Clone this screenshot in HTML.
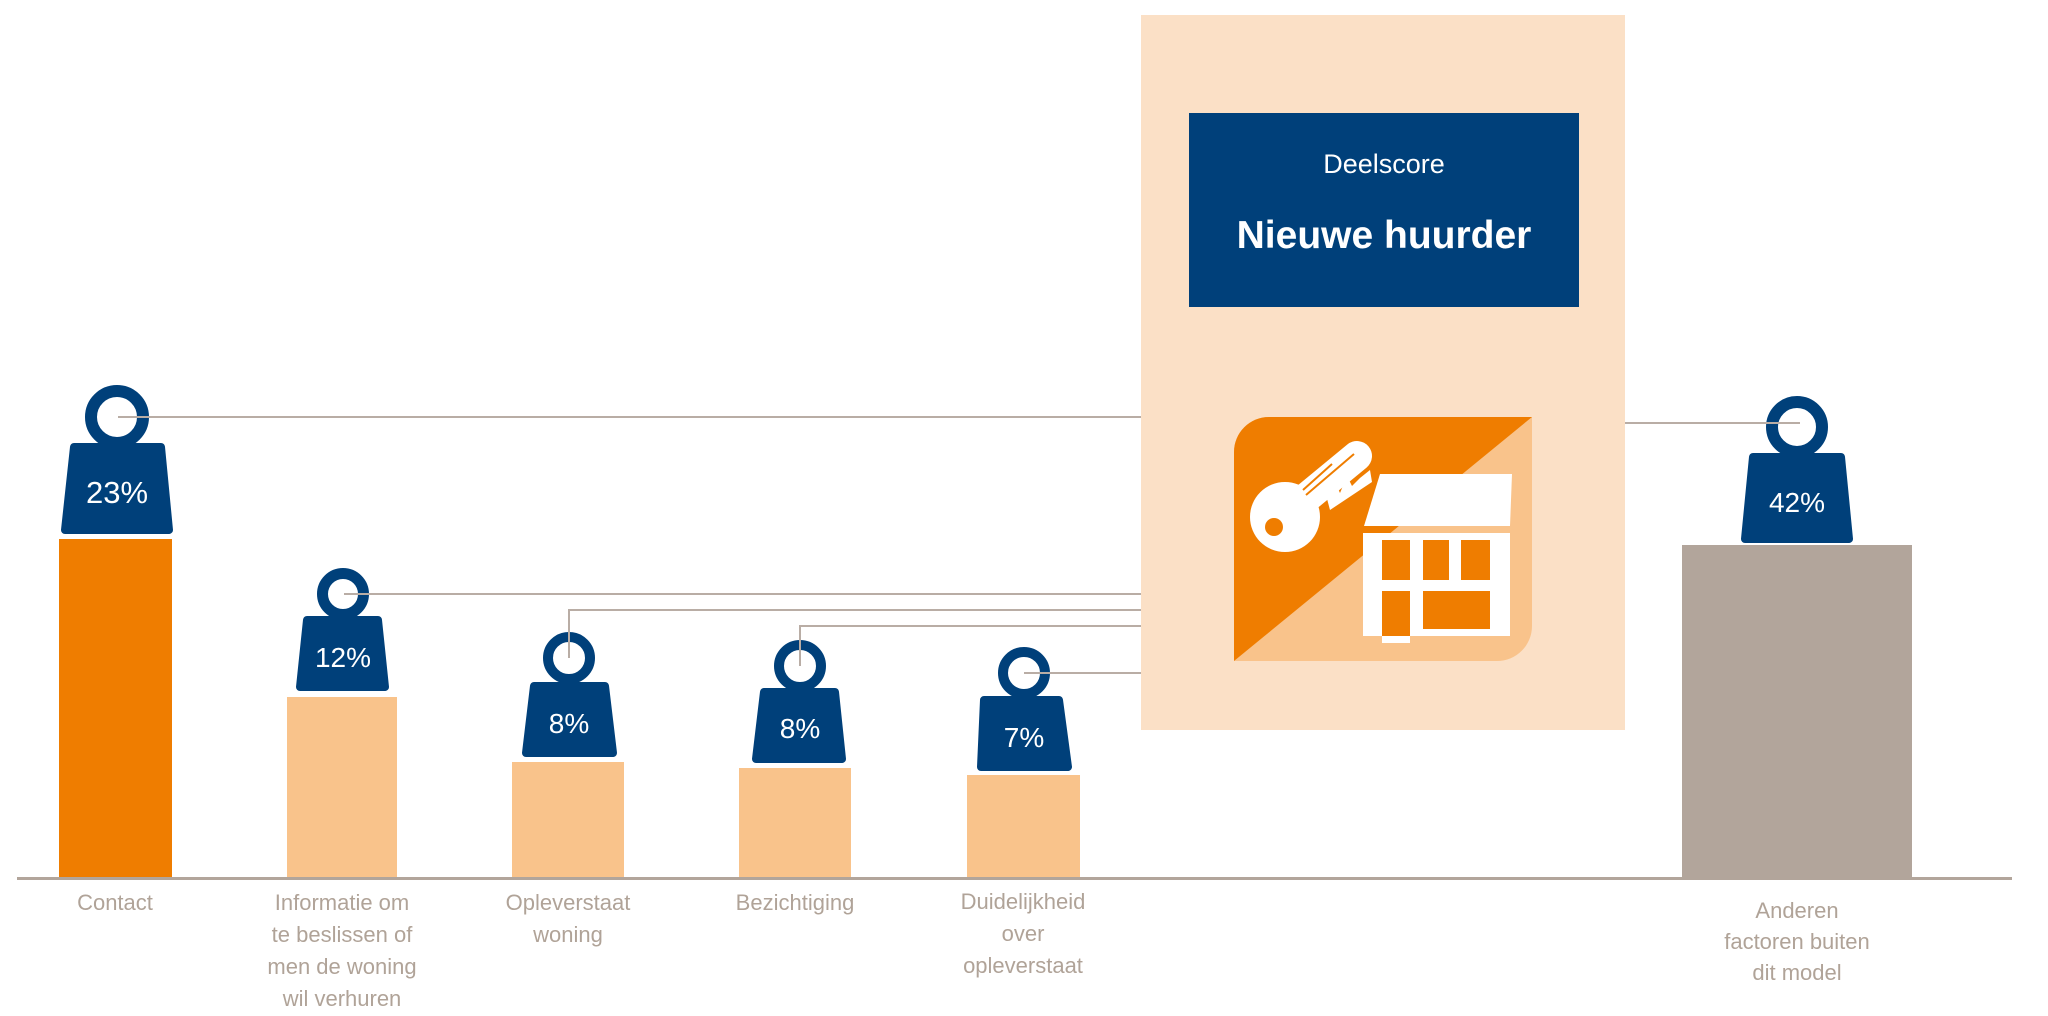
<!DOCTYPE html>
<html><head><meta charset="utf-8"><style>
html,body{margin:0;padding:0;background:#fff;}
svg{display:block;}
text{font-family:"Liberation Sans",sans-serif;}
.lbl{fill:#b0a398;font-size:22px;text-anchor:middle;}
.pct{fill:#fff;text-anchor:middle;}
.ln{stroke:#b9ada5;stroke-width:2;fill:none;}
.w{fill:#00407a;stroke:#00407a;stroke-width:8;stroke-linejoin:round;}
</style></head><body>
<svg width="2048" height="1016" viewBox="0 0 2048 1016" xmlns="http://www.w3.org/2000/svg">
<rect x="1141" y="15" width="484" height="715" fill="#fbe0c6"/>
<rect x="1189" y="113" width="390" height="194" fill="#00407a"/>
<text x="1384" y="173" fill="#fff" font-size="27" text-anchor="middle">Deelscore</text>
<text x="1384" y="248" fill="#fff" font-size="39" font-weight="bold" text-anchor="middle">Nieuwe huurder</text>
<path d="M1269 417 H1532 V626 A35 35 0 0 1 1497 661 H1234 V452 A35 35 0 0 1 1269 417 Z" fill="#f9c38b"/>
<path d="M1269 417 H1532 L1234 661 V452 A35 35 0 0 1 1269 417 Z" fill="#ef7d00"/>
<line x1="1300" y1="503" x2="1357" y2="456" stroke="#fff" stroke-width="30" stroke-linecap="round"/>
<circle cx="1285" cy="517" r="35" fill="#fff"/>
<circle cx="1274" cy="527" r="9" fill="#ef7d00"/>
<polygon points="1326,495 1334,480 1340,493 1347,476 1352,486 1360,478 1370,470 1372,482 1330,510" fill="#fff"/>
<line x1="1303" y1="490" x2="1332" y2="464" stroke="#ef7d00" stroke-width="2"/>
<line x1="1306" y1="495" x2="1354" y2="454" stroke="#ef7d00" stroke-width="2"/>
<polygon points="1380,474 1512,474 1510,526 1364,526" fill="#fff"/>
<rect x="1363" y="533" width="147" height="103" fill="#fff"/>
<rect x="1382" y="540" width="28" height="40" fill="#ef7d00"/>
<rect x="1423" y="540" width="26" height="40" fill="#ef7d00"/>
<rect x="1461" y="540" width="29" height="40" fill="#ef7d00"/>
<rect x="1382" y="591" width="28" height="45" fill="#ef7d00"/>
<rect x="1382" y="636" width="28" height="7" fill="#fff"/>
<rect x="1423" y="591" width="67" height="38" fill="#ef7d00"/>
<path class="ln" d="M118 417 H1141"/>
<path class="ln" d="M344 594 H1141"/>
<path class="ln" d="M569 658 V610 H1141"/>
<path class="ln" d="M800 666 V626 H1141"/>
<path class="ln" d="M1024 673 H1141"/>
<rect x="59" y="539" width="113" height="340" fill="#ef7d00"/>
<rect x="287" y="697" width="110" height="182" fill="#f9c38b"/>
<rect x="512" y="762" width="112" height="117" fill="#f9c38b"/>
<rect x="739" y="768" width="112" height="111" fill="#f9c38b"/>
<rect x="967" y="775" width="113" height="104" fill="#f9c38b"/>
<rect x="1682" y="545" width="230" height="334" fill="#b2a59b"/>
<rect x="17" y="877" width="1995" height="3" fill="#b2a59b"/>
<circle cx="117" cy="417" r="26" fill="none" stroke="#00407a" stroke-width="12"/>
<polygon class="w" points="74,447 161,447 169,530 65,530"/>
<text class="pct" x="117" y="503" font-size="31">23%</text>
<path class="ln" d="M118 417 H150"/>
<circle cx="343" cy="594" r="20.5" fill="none" stroke="#00407a" stroke-width="11"/>
<polygon class="w" points="307,620 378,620 385,687 300,687"/>
<text class="pct" x="343" y="667" font-size="28">12%</text>
<path class="ln" d="M344 594 H370"/>
<circle cx="569" cy="658" r="21" fill="none" stroke="#00407a" stroke-width="10"/>
<polygon class="w" points="534,686 605,686 613,753 526,753"/>
<text class="pct" x="569" y="733" font-size="28">8%</text>
<path class="ln" d="M569 658 V630"/>
<circle cx="800" cy="666" r="21" fill="none" stroke="#00407a" stroke-width="10"/>
<polygon class="w" points="764,692 835,692 842,759 756,759"/>
<text class="pct" x="800" y="738" font-size="28">8%</text>
<path class="ln" d="M800 666 V640"/>
<circle cx="1024" cy="673" r="21" fill="none" stroke="#00407a" stroke-width="10"/>
<polygon class="w" points="984,700 1059,700 1068,767 981,767"/>
<text class="pct" x="1024" y="747" font-size="28">7%</text>
<path class="ln" d="M1024 673 H1050"/>
<circle cx="1797" cy="427" r="25" fill="none" stroke="#00407a" stroke-width="12"/>
<polygon class="w" points="1753,457 1841,457 1849,539 1745,539"/>
<text class="pct" x="1797" y="512" font-size="28">42%</text>
<path class="ln" d="M1625 423 H1800"/>
<text class="lbl" x="115" y="910">Contact</text>
<text class="lbl" x="342" y="910">Informatie om</text>
<text class="lbl" x="342" y="942">te beslissen of</text>
<text class="lbl" x="342" y="974">men de woning</text>
<text class="lbl" x="342" y="1006">wil verhuren</text>
<text class="lbl" x="568" y="910">Opleverstaat</text>
<text class="lbl" x="568" y="942">woning</text>
<text class="lbl" x="795" y="910">Bezichtiging</text>
<text class="lbl" x="1023" y="909">Duidelijkheid</text>
<text class="lbl" x="1023" y="941">over</text>
<text class="lbl" x="1023" y="973">opleverstaat</text>
<text class="lbl" x="1797" y="918">Anderen</text>
<text class="lbl" x="1797" y="949">factoren buiten</text>
<text class="lbl" x="1797" y="980">dit model</text>
</svg>
</body></html>
